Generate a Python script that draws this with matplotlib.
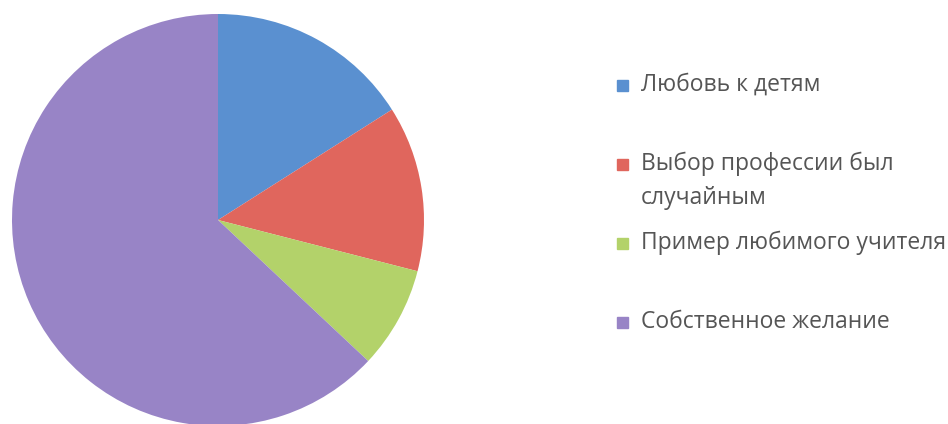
import matplotlib
matplotlib.use("Agg")
import matplotlib.pyplot as plt
from matplotlib.patches import Rectangle

# Survey: why the profession was chosen (shares, %)
labels = [
    "Любовь к детям",
    "Выбор профессии был\nслучайным",
    "Пример любимого учителя",
    "Собственное желание",
]
values = [16, 13, 8, 63]
colors = ["#5a90d0", "#e0665d", "#b3d26a", "#9884c6"]

plt.rcParams["font.family"] = ["Open Sans", "DejaVu Sans"]

fig = plt.figure(figsize=(9.48, 4.24), dpi=100)
W, H = 948, 424

# pie axes: centre (218, 220) px, radius 206 px
cx, cy, r = 218, 220, 206
ax = fig.add_axes([(cx - r) / W, (H - cy - r) / H, 2 * r / W, 2 * r / H])
ax.pie(values, colors=colors, startangle=90, counterclock=False,
       wedgeprops=dict(linewidth=0))
ax.set_xlim(-1, 1)
ax.set_ylim(-1, 1)
ax.set_aspect("equal")
ax.axis("off")

# -------------------------
# LEGEND (drawn by hand, Excel style)
# -------------------------
sq = 11
for i, (lab, col) in enumerate(zip(labels, colors)):
    yc = 85 + i * 79
    fig.patches.append(Rectangle((617 / W, (H - yc - sq / 2) / H), sq / W, sq / H,
                                 transform=fig.transFigure, color=col))
    for j, line in enumerate(lab.split("\n")):
        fig.text(641 / W, (H - yc - 6 - 34 * j) / H, line, fontsize=16.5,
                 color="#555555", va="baseline", ha="left",
                 transform=fig.transFigure)

fig.savefig("out.png", dpi=100)
